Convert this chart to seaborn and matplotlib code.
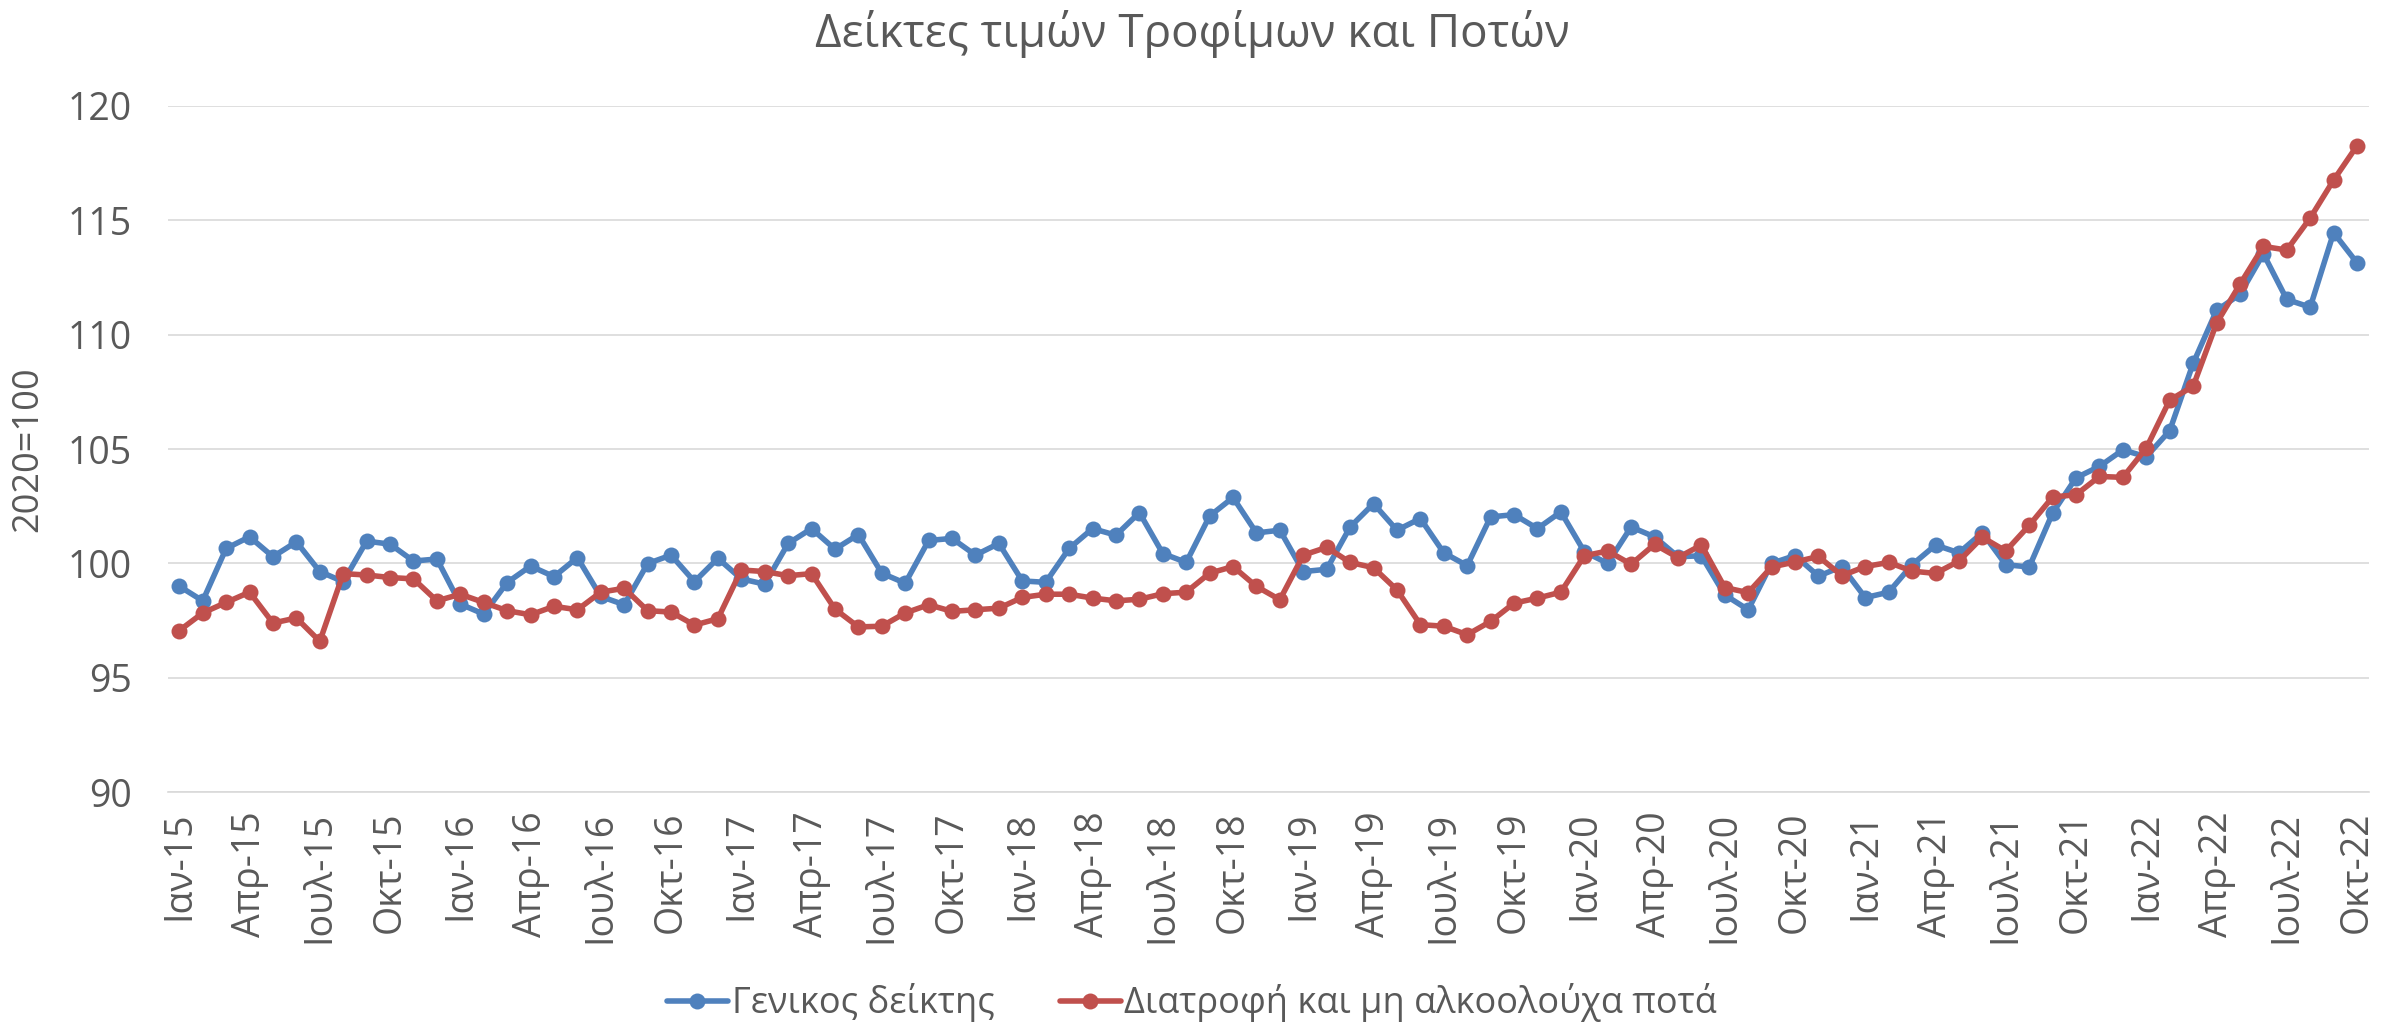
import numpy as np
import pandas as pd
import matplotlib.pyplot as plt
import seaborn as sns

# Στοιχεία γραφήματος
title = "Δείκτες τιμών Τροφίμων και Ποτών"
y_label = "2020=100"
series_names = ["Γενικος δείκτης", "Διατροφή και μη αλκοολούχα ποτά"]
palette = {"Γενικος δείκτης": "#4F81BD", "Διατροφή και μη αλκοολούχα ποτά": "#C0504D"}

month_abbr = ['Ιαν', 'Φεβ', 'Μαρ', 'Απρ', 'Μαϊ', 'Ιουν', 'Ιουλ', 'Αυγ', 'Σεπ', 'Οκτ', 'Νοε', 'Δεκ']
years = ['15', '16', '17', '18', '19', '20', '21', '22']
months = [f"{m}-{y}" for y in years for m in month_abbr][:94]   # Ιαν-15 .. Οκτ-22

# Γενικος δείκτης (μηνιαία)
general = [99.0, 98.36, 100.65, 101.16, 100.29, 100.94, 99.64, 99.2, 100.97, 100.84, 100.1, 100.19,
           98.22, 97.78, 99.16, 99.88, 99.42, 100.25, 98.55, 98.19, 99.99, 100.36, 99.2, 100.22,
           99.32, 99.09, 100.87, 101.52, 100.62, 101.26, 99.57, 99.13, 101.0, 101.09, 100.36, 100.87,
           99.23, 99.17, 100.65, 101.52, 101.23, 102.22, 100.43, 100.04, 102.07, 102.88, 101.33, 101.45,
           99.64, 99.74, 101.59, 102.61, 101.45, 101.96, 100.46, 99.9, 102.03, 102.13, 101.52, 102.25,
           100.51, 100.0, 101.59, 101.16, 100.29, 100.33, 98.62, 97.97, 100.0, 100.34, 99.44, 99.86,
           98.5, 98.74, 99.94, 100.8, 100.46, 101.34, 99.94, 99.84, 102.2, 103.74, 104.24, 104.96,
           104.66, 105.8, 108.74, 111.06, 111.76, 113.54, 111.54, 111.2, 114.46, 113.14]

# Διατροφή και μη αλκοολούχα ποτά (μηνιαία)
food = [97.06, 97.83, 98.29, 98.74, 97.39, 97.61, 96.59, 99.55, 99.49, 99.38, 99.32, 98.36,
        98.65, 98.29, 97.93, 97.75, 98.12, 97.97, 98.74, 98.91, 97.93, 97.87, 97.3, 97.58,
        99.71, 99.64, 99.46, 99.55, 98.0, 97.22, 97.25, 97.83, 98.19, 97.9, 97.97, 98.04,
        98.51, 98.65, 98.65, 98.48, 98.36, 98.43, 98.67, 98.74, 99.57, 99.86, 98.99, 98.41,
        100.36, 100.7, 100.04, 99.81, 98.84, 97.32, 97.25, 96.88, 97.46, 98.26, 98.48, 98.74,
        100.33, 100.54, 99.96, 100.83, 100.25, 100.8, 98.94, 98.72, 99.84, 100.06, 100.3, 99.46,
        99.86, 100.04, 99.66, 99.56, 100.1, 101.14, 100.54, 101.66, 102.9, 103.0, 103.8, 103.76,
        105.04, 107.14, 107.74, 110.5, 112.2, 113.86, 113.7, 115.1, 116.76, 118.26]

data = pd.DataFrame({'idx': range(len(months)), 'month': months,
                     series_names[0]: general, series_names[1]: food})
data = data.melt(id_vars=['idx', 'month'], var_name='series', value_name='value')

sns.set_style("white")
plt.rcParams['font.family'] = ['Open Sans', 'DejaVu Sans']
text_color = '#595959'
grid_color = '#D9D9D9'

fig = plt.figure(figsize=(23.84, 10.25), dpi=100)
ax = fig.add_axes([0.0703, 0.2273, 0.9233, 0.6693])

sns.lineplot(data=data, x='idx', y='value', hue='series', hue_order=series_names,
             palette=palette, marker='o', markersize=11.5, markeredgewidth=0,
             linewidth=4, ax=ax)

# Άξονας x: ετικέτες ανά τρίμηνο, γραμμές υποδιαίρεσης ανάμεσα στις κατηγορίες
ax.set_xlim(-0.5, len(months) - 0.5)
ax.set_xticks(range(0, len(months), 3))
ax.set_xticklabels([months[i] for i in range(0, len(months), 3)], rotation=90)
ax.set_xticks(np.arange(-0.5, len(months) - 1, 3), minor=True)
ax.tick_params(axis='x', which='major', length=0, pad=14, labelsize=27, labelcolor=text_color)
ax.tick_params(axis='x', which='minor', length=9, width=1.2, color=grid_color)

# Άξονας y
ax.set_ylim(90, 120)
ax.set_yticks(range(90, 121, 5))
ax.tick_params(axis='y', length=0, pad=26, labelsize=27, labelcolor=text_color)
ax.yaxis.grid(True, color=grid_color, linewidth=1.2)
ax.xaxis.grid(False)

for side in ['left', 'right', 'top']:
    ax.spines[side].set_visible(False)
ax.spines['bottom'].set_color(grid_color)
ax.spines['bottom'].set_linewidth(1.2)

ax.set_xlabel('')
ax.set_ylabel(y_label, fontsize=26, color=text_color)
ax.yaxis.set_label_coords(-0.055, 0.5)

fig.suptitle(title, y=0.967, va='center', fontsize=33, color=text_color)

handles, labels = ax.get_legend_handles_labels()
ax.get_legend().remove()
fig.legend(handles, labels, loc='center', bbox_to_anchor=(0.5, 0.0215), ncol=2,
           frameon=False, fontsize=26, handlelength=1.7, handletextpad=0.1,
           columnspacing=1.8, labelcolor=text_color)

fig.savefig('out.png', dpi=100)
